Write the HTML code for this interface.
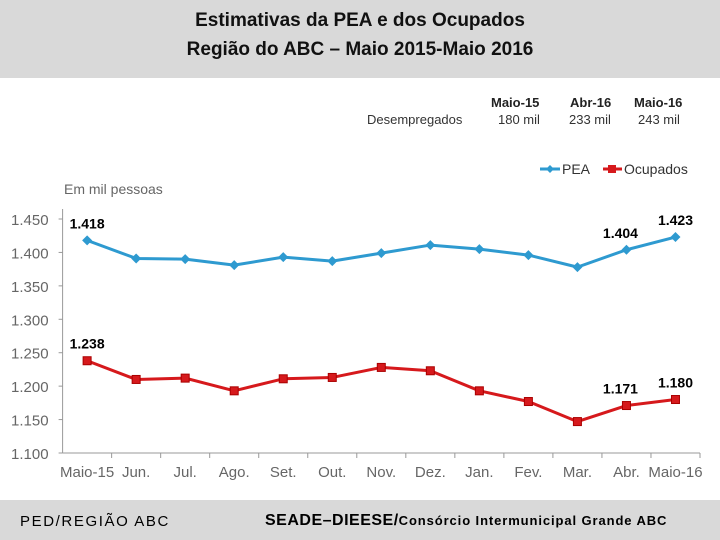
<!DOCTYPE html>
<html><head><meta charset="utf-8"><style>
body{margin:0;width:720px;height:540px;overflow:hidden;background:#fff;font-family:"Liberation Sans",sans-serif;position:relative}
.hdr{position:absolute;left:0;top:0;width:720px;height:78px;background:#d9d9d9;text-align:center;font-family:"Liberation Sans",sans-serif;font-size:19px;font-weight:bold;line-height:29px;padding-top:6px;box-sizing:border-box;color:#111}
.ftr{position:absolute;left:0;top:500px;width:720px;height:40px;background:#d9d9d9}
.t{position:absolute;white-space:nowrap}
</style></head><body>
<div class="hdr">Estimativas da PEA e dos Ocupados<br>Região do ABC – Maio 2015-Maio 2016</div>
<div class="t" style="left:367px;top:112px;font-size:13px;color:#333">Desempregados</div>
<div class="t" style="left:491px;top:95px;font-size:13px;font-weight:bold;color:#222">Maio-15</div>
<div class="t" style="left:570px;top:95px;font-size:13px;font-weight:bold;color:#222">Abr-16</div>
<div class="t" style="left:634px;top:95px;font-size:13px;font-weight:bold;color:#222">Maio-16</div>
<div class="t" style="left:498px;top:112px;font-size:13px;color:#333">180 mil</div>
<div class="t" style="left:569px;top:112px;font-size:13px;color:#333">233 mil</div>
<div class="t" style="left:638px;top:112px;font-size:13px;color:#333">243 mil</div>
<svg id="c" width="720" height="500" style="position:absolute;left:0;top:0"></svg>
<div class="ftr">
<div class="t" style="left:20px;top:13px;font-size:15px;letter-spacing:1.6px">PED/REGIÃO ABC</div>
<div class="t" style="left:265px;top:12px;font-size:16px;font-weight:bold;letter-spacing:0.5px">SEADE–DIEESE/<span style="font-size:13px;letter-spacing:0.9px">Consórcio Intermunicipal Grande ABC</span></div>
</div>
<script>
const categories=["Maio-15","Jun.","Jul.","Ago.","Set.","Out.","Nov.","Dez.","Jan.","Fev.","Mar.","Abr.","Maio-16"];
const pea=[1418,1391,1390,1381,1393,1387,1399,1411,1405,1396,1378,1404,1423];
const ocup=[1238,1210,1212,1193,1211,1213,1228,1223,1193,1177,1147,1171,1180];
const yTicks=[1100,1150,1200,1250,1300,1350,1400,1450];
const peaLabels=[[0,"1.418"],[11,"1.404"],[12,"1.423"]];
const ocupLabels=[[0,"1.238"],[11,"1.171"],[12,"1.180"]];
const NS="http://www.w3.org/2000/svg",svg=document.getElementById('c');
const L=62.6,R=700,Y0=453,Y1=219,vmin=1100,vmax=1450;
const bw=(R-L)/categories.length;
const x=i=>L+bw*(i+0.5);
const y=v=>Y0-(v-vmin)/(vmax-vmin)*(Y0-Y1);
const fmt=v=>(v/1000).toFixed(3);
function mk(t,a,txt){const e=document.createElementNS(NS,t);for(const k in a)e.setAttribute(k,a[k]);if(txt!=null)e.textContent=txt;svg.appendChild(e);return e;}
let e=mk('line',{x1:L,y1:Y1-10,x2:L,y2:Y0,stroke:'#999'});


e=mk('line',{x1:L,y1:Y0,x2:R,y2:Y0,stroke:'#999'});


yTicks.forEach(v=>{
 let t=mk('text',{x:L-14,y:y(v)+6,'text-anchor':'end','font-size':15,fill:'#666'},fmt(v));
 
 
 let l=mk('line',{x1:L-4,y1:y(v),x2:L,y2:y(v),stroke:'#999'});
 
 
});
categories.forEach((c,i)=>{
 let l=mk('line',{x1:L+bw*(i+1),y1:Y0,x2:L+bw*(i+1),y2:Y0+5,stroke:'#999'});
 
 
 let t=mk('text',{x:x(i),y:Y0+24,'text-anchor':'middle','font-size':15,fill:'#666'},c);
 
 
});
e=mk('text',{x:64,y:194,'font-size':14,fill:'#666'},'Em mil pessoas');


function series(vals,col,name,sq){
 let p=mk('polyline',{points:vals.map((v,i)=>x(i)+','+y(v)).join(' '),fill:'none',stroke:col,'stroke-width':3,'stroke-linejoin':'round'});
 
 
 vals.forEach((v,i)=>{
  let m=sq?mk('rect',{x:x(i)-4,y:y(v)-4,width:8,height:8,fill:col,stroke:'#a00','stroke-width':1}):
   mk('polygon',{points:`${x(i)},${y(v)-5} ${x(i)+5},${y(v)} ${x(i)},${y(v)+5} ${x(i)-5},${y(v)}`,fill:col});
  
  
 });
}
series(pea,'#2e9ad0','pea',false);
series(ocup,'#d6191c','ocupados',true);
peaLabels.forEach(([i,s])=>{let t=mk('text',{x:x(i)+(i==11?-6:0),y:y(pea[i])-12,'text-anchor':'middle','font-size':14,'font-weight':'bold'},s);
 
 });
ocupLabels.forEach(([i,s])=>{let t=mk('text',{x:x(i)+(i==11?-6:0),y:y(ocup[i])-12,'text-anchor':'middle','font-size':14,'font-weight':'bold'},s);
 
 });
e=mk('line',{x1:540,y1:169,x2:560,y2:169,stroke:'#2e9ad0','stroke-width':3});


e=mk('polygon',{points:'550,165 554,169 550,173 546,169',fill:'#2e9ad0'});


e=mk('text',{x:562,y:174,'font-size':14,fill:'#333'},'PEA');


e=mk('line',{x1:603,y1:169,x2:622,y2:169,stroke:'#d6191c','stroke-width':3});


e=mk('rect',{x:608,y:165,width:8,height:8,fill:'#d6191c'});


e=mk('text',{x:624,y:174,'font-size':14,fill:'#333'},'Ocupados');


</script>
</body></html>
